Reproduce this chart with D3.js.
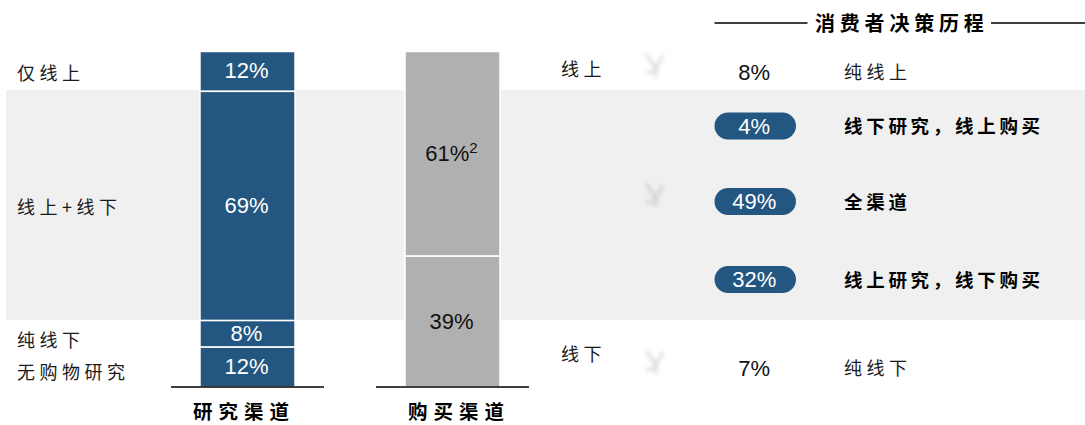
<!DOCTYPE html>
<html>
<head>
<meta charset="utf-8">
<script src="https://cdn.jsdelivr.net/npm/d3@7"></script>
<style>
    html, body { margin: 0; padding: 0; background: #fff; }
    svg { display: block; }
    text { font-family: "Noto Sans CJK SC", sans-serif; fill: #1a1a1a; }
    .num { font-family: "Liberation Sans", Arial, sans-serif; font-size: 22px; }
    .cjk { font-size: 18px; letter-spacing: 4.5px; font-weight: 400; }
    .bold { font-size: 18.5px; letter-spacing: 3.7px; font-weight: 700; fill: #000; }
    .head { font-size: 20px; letter-spacing: 4.8px; font-weight: 700; fill: #000; }
    .cat { font-size: 19.5px; letter-spacing: 6px; font-weight: 700; fill: #000; }
</style>
</head>
<body>
<div id="chart"></div>
<script>
var channels = ["研究渠道", "购买渠道"];
var researchLabels = ["仅线上", "线上+线下", "纯线下", "无购物研究"];
var researchValues = [12, 69, 8, 12];
var purchaseLabels = ["线上", "线下"];
var purchaseValues = [61, 39];
var journeyValues = [8, 4, 49, 32, 7];
var journeyLabels = ["纯线上", "线下研究，线上购买", "全渠道", "线上研究，线下购买", "纯线下"];
var journeyPill = [false, true, true, true, false];
var title = "消费者决策历程";

var blue = "#235680", grey = "#b0b0b0", band = "#f0f0f0";

var w = 1085, h = 425;
var svg = d3.select("#chart").append("svg").attr("width", w).attr("height", h);

// soft smudge for the faded arrows
svg.append("defs").append("filter").attr("id", "smudge")
    .attr("x", "-100%").attr("y", "-100%").attr("width", "300%").attr("height", "300%")
    .append("feGaussianBlur").attr("stdDeviation", 2.2);

// grey band behind the mixed rows
svg.append("rect").attr("x", 6).attr("y", 90).attr("width", w - 6).attr("height", 230).attr("fill", band);

// setup scales
var x = d3.scaleBand().domain(channels).range([200, 500]).paddingInner(110 / 205);
var yTop = 51.5, yBase = 387;
var yResearch = d3.scaleLinear().domain([0, d3.sum(researchValues)]).range([yTop, yBase]);
var yPurchase = d3.scaleLinear().domain([0, d3.sum(purchaseValues)]).range([yTop, yBase]);

function stackUp(values) {
    var acc = 0;
    return values.map(function (v) {
        var d = { value: v, y0: acc, y1: acc + v };
        acc += v;
        return d;
    });
}

function drawBar(channel, values, y, fill, textFill) {
    var g = svg.append("g").selectAll("g").data(stackUp(values)).enter().append("g");
    g.append("rect")
        .attr("x", x(channel))
        .attr("width", x.bandwidth())
        .attr("y", function (d) { return y(d.y0); })
        .attr("height", function (d) { return y(d.y1) - y(d.y0); })
        .attr("fill", fill)
        .attr("stroke", "#fff")
        .attr("stroke-width", 1.5);
    return g.append("text")
        .attr("class", "num")
        .attr("x", x(channel) + x.bandwidth() / 2 - 1)
        .attr("y", function (d) { return (y(d.y0) + y(d.y1)) / 2 - 0.7; })
        .attr("dy", "0.35em")
        .attr("text-anchor", "middle")
        .style("fill", textFill)
        .text(function (d) { return d.value + "%"; });
}

drawBar(channels[0], researchValues, yResearch, blue, "#fff");
var purchaseText = drawBar(channels[1], purchaseValues, yPurchase, grey, "#111");
purchaseText.filter(function (d, i) { return i === 0; })
    .append("tspan").attr("dy", -8).style("font-size", "15px").text("2");

// baselines and category names
var catOffset = [-7, 3];
channels.forEach(function (c, i) {
    svg.append("line")
        .attr("x1", x(c) - 29).attr("x2", x(c) + x.bandwidth() + 29)
        .attr("y1", yBase).attr("y2", yBase)
        .attr("stroke", "#000").attr("stroke-width", 1.5);
    svg.append("text").attr("class", "cat")
        .attr("x", x(c) + catOffset[i]).attr("y", 419)
        .text(c);
});

// left labels
var researchLabelY = [74, 208, 341, 373];
researchLabels.forEach(function (t, i) {
    svg.append("text").attr("class", "cjk")
        .attr("x", 17).attr("y", researchLabelY[i]).attr("dy", "0.35em").text(t);
});

// purchase labels
var purchaseLabelY = [70, 355];
purchaseLabels.forEach(function (t, i) {
    svg.append("text").attr("class", "cjk")
        .attr("x", 561).attr("y", purchaseLabelY[i]).attr("dy", "0.35em").text(t);
});

// faded arrows
[68, 198, 365].forEach(function (cy) {
    svg.append("path")
        .attr("transform", "translate(655," + cy + ")")
        .attr("d", "M-9,-14 L1,0 L1,9 M1,0 L8,-13 M-9,5 L1,3")
        .attr("fill", "none")
        .attr("stroke", "#999")
        .attr("stroke-width", 2.6)
        .attr("opacity", 0.42)
        .attr("filter", "url(#smudge)");
});

// journey rows
var rowY = [72, 126, 201.5, 279.5, 368];
var pillX = 714.5, pillW = 81.5, pillH = 27;
journeyValues.forEach(function (v, i) {
    if (journeyPill[i]) {
        svg.append("rect")
            .attr("x", pillX).attr("y", rowY[i] - pillH / 2)
            .attr("width", pillW).attr("height", pillH)
            .attr("rx", pillH / 2).attr("fill", blue);
    }
    svg.append("text").attr("class", "num")
        .attr("x", pillX + pillW / 2 - 1).attr("y", rowY[i]).attr("dy", "0.35em")
        .attr("text-anchor", "middle")
        .style("fill", journeyPill[i] ? "#fff" : "#111")
        .text(v + "%");
    svg.append("text").attr("class", journeyPill[i] ? "bold" : "cjk")
        .attr("x", 844).attr("y", rowY[i] + 1).attr("dy", "0.35em")
        .text(journeyLabels[i]);
});

// header with rules
svg.append("text").attr("class", "head")
    .attr("x", 815).attr("y", 24).attr("dy", "0.35em").text(title);
[[714.5, 807.5], [991, 1085]].forEach(function (r) {
    svg.append("line").attr("x1", r[0]).attr("x2", r[1]).attr("y1", 23).attr("y2", 23)
        .attr("stroke", "#000").attr("stroke-width", 1.3);
});
</script>
</body>
</html>
